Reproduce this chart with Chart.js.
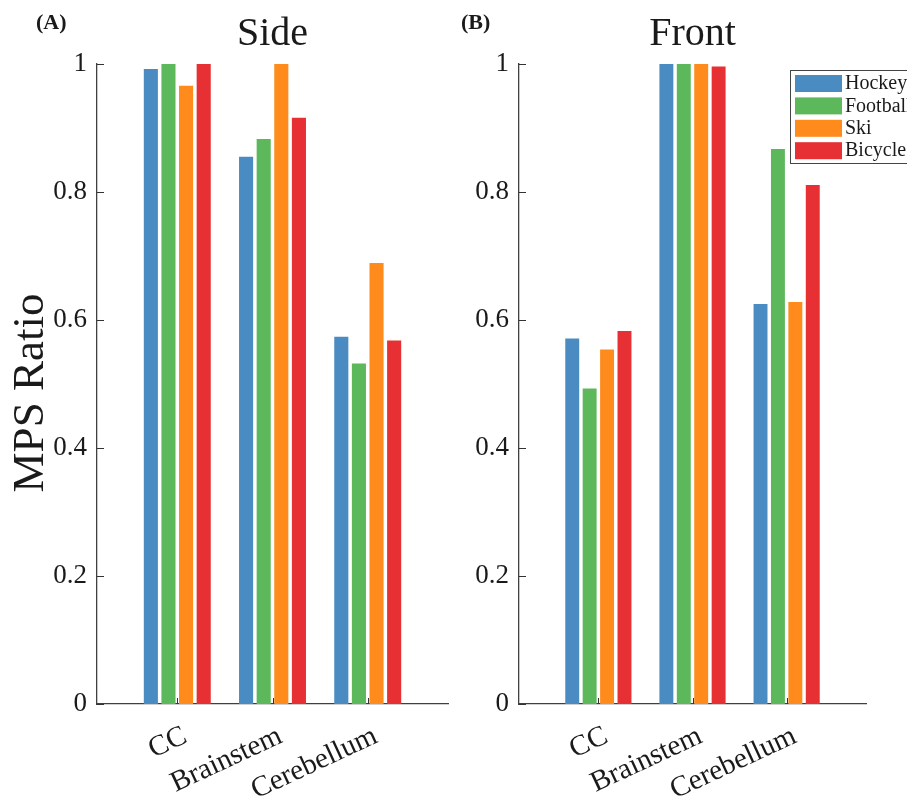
<!DOCTYPE html>
<html><head><meta charset="utf-8">
<script src="https://cdn.jsdelivr.net/npm/chart.js@4"></script>
<style>
html,body{margin:0;padding:0;background:#fff;overflow:hidden}
#wrapA{position:absolute;left:0;top:0;width:455px;height:800px}
#wrapB{position:absolute;left:455px;top:0;width:452px;height:800px}
canvas{display:block}
</style></head><body>
<div id="wrapA"><canvas id="cA" width="455" height="800"></canvas></div>
<div id="wrapB"><canvas id="cB" width="452" height="800"></canvas></div>
<script>
const categories = ['CC', 'Brainstem', 'Cerebellum'];
const seriesNames = ['Hockey', 'Football', 'Ski', 'Bicycle'];
const seriesColors = ['#4A8BC1', '#5DB85C', '#FE8B1C', '#E63033'];
const yTicks = [0, 0.2, 0.4, 0.6, 0.8, 1];

const sideHockey   = [0.992, 0.855, 0.574];
const sideFootball = [1.000, 0.883, 0.532];
const sideSki      = [0.966, 1.000, 0.689];
const sideBicycle  = [1.000, 0.916, 0.568];

const frontHockey   = [0.571, 1.000, 0.625];
const frontFootball = [0.493, 1.000, 0.867];
const frontSki      = [0.554, 1.000, 0.628];
const frontBicycle  = [0.583, 0.996, 0.811];

const FONT = "'Liberation Serif', 'Times New Roman', serif";
const TEXT = '#1a1a1a';

function makeDatasets(seriesList) {
  return seriesList.map((vals, s) => ({
    label: seriesNames[s],
    data: vals.map((v, i) => ({ x: i + 1, y: v })),
    backgroundColor: seriesColors[s],
    borderWidth: 0,
    barPercentage: 0.8,
    categoryPercentage: 0.74
  }));
}

function makeDecor(opts) {
  return {
    id: 'decor',
    afterDraw(chart) {
      const ctx = chart.ctx, ca = chart.chartArea;
      const xs = chart.scales.x, ys = chart.scales.y;
      ctx.save();
      ctx.strokeStyle = '#333';
      ctx.lineWidth = 1;
      ys.ticks.forEach(t => {
        const y = Math.round(ys.getPixelForValue(t.value)) + 0.5;
        ctx.beginPath(); ctx.moveTo(ca.left, y); ctx.lineTo(ca.left + 7, y); ctx.stroke();
      });
      xs.ticks.forEach(t => {
        const x = Math.round(xs.getPixelForValue(t.value)) + 0.5;
        ctx.beginPath(); ctx.moveTo(x, ca.bottom); ctx.lineTo(x, ca.bottom - 6); ctx.stroke();
      });
      ctx.fillStyle = TEXT;
      ctx.font = '40px ' + FONT;
      ctx.textAlign = 'center';
      ctx.textBaseline = 'alphabetic';
      ctx.fillText(opts.title, (ca.left + ca.right) / 2, 45);
      ctx.font = 'bold 22px ' + FONT;
      ctx.textAlign = 'left';
      ctx.fillText(opts.panel, opts.panelX, 29);
      if (opts.yTitle) {
        ctx.save();
        ctx.translate(43, 393);
        ctx.rotate(-Math.PI / 2);
        ctx.font = '45px ' + FONT;
        ctx.textAlign = 'center';
        ctx.textBaseline = 'alphabetic';
        ctx.fillText(opts.yTitle, 0, 0);
        ctx.restore();
      }
      if (opts.legend) {
        const lx = opts.legendX, ly = 70;
        ctx.fillStyle = '#fff';
        ctx.fillRect(lx, ly, 140, 93);
        ctx.strokeStyle = '#444';
        ctx.lineWidth = 1;
        ctx.strokeRect(lx + 0.5, ly + 0.5, 140, 93);
        chart.data.datasets.forEach((ds, i) => {
          const sy = ly + 5 + i * 22.4;
          ctx.fillStyle = ds.backgroundColor;
          ctx.fillRect(lx + 5, sy, 47, 17);
          ctx.fillStyle = TEXT;
          ctx.font = '20px ' + FONT;
          ctx.textAlign = 'left';
          ctx.textBaseline = 'middle';
          ctx.fillText(ds.label, lx + 55, sy + 9);
        });
      }
      ctx.restore();
    }
  };
}

function makeChart(id, seriesList, opts) {
  return new Chart(document.getElementById(id), {
    type: 'bar',
    data: { datasets: makeDatasets(seriesList) },
    options: {
      responsive: false,
      animation: false,
      layout: { padding: { top: 64, left: 0, right: opts.padRight, bottom: 0 } },
      plugins: { legend: { display: false }, tooltip: { enabled: false }, title: { display: false } },
      scales: {
        x: {
          type: 'linear',
          offset: false,
          min: 0.157, max: 3.843,
          afterBuildTicks: s => { s.ticks = categories.map((c, i) => ({ value: i + 1 })); },
          afterFit: s => { s.height = 96; },
          ticks: {
            callback: v => categories[Math.round(v) - 1],
            minRotation: 25, maxRotation: 25, autoSkip: false,
            font: { family: FONT, size: 29 }, color: TEXT, padding: 15, labelOffset: 8
          },
          grid: { display: false, drawTicks: false },
          border: { display: true, color: '#404040', width: 1.3 }
        },
        y: {
          min: 0, max: 1,
          afterBuildTicks: s => { s.ticks = yTicks.map(v => ({ value: v })); },
          afterFit: s => { s.width = opts.yWidth; },
          ticks: {
            callback: v => String(Number(v.toFixed(1))),
            font: { family: FONT, size: 27 }, color: TEXT, padding: 10
          },
          grid: { display: false, drawTicks: false },
          border: { display: true, color: '#404040', width: 1.3 }
        }
      }
    },
    plugins: [makeDecor(opts)]
  });
}

makeChart('cA', [sideHockey, sideFootball, sideSki, sideBicycle],
  { title: 'Side', panel: '(A)', panelX: 36, padRight: 7, yWidth: 97, yTitle: 'MPS Ratio', legend: false });
makeChart('cB', [frontHockey, frontFootball, frontSki, frontBicycle],
  { title: 'Front', panel: '(B)', panelX: 6, padRight: 41, yWidth: 64, legend: true, legendX: 335 });
</script>
</body></html>
